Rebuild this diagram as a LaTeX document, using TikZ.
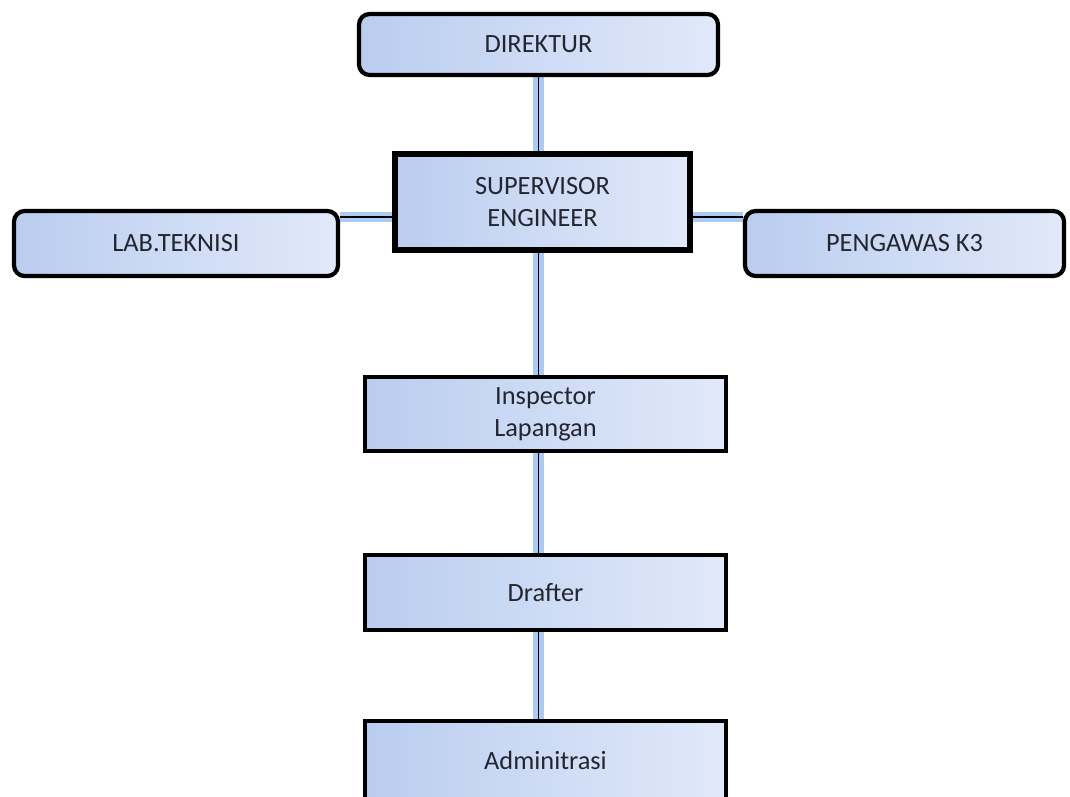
\documentclass[tikz,border=0pt]{standalone}
\usepackage{fontspec}
\setmainfont{Carlito}
\usepackage{tikz,xcolor}
\usetikzlibrary{backgrounds}
\definecolor{boxleft}{RGB}{186,205,239}
\definecolor{boxright}{RGB}{225,233,250}
\definecolor{glow}{RGB}{172,203,242}
\definecolor{textdark}{RGB}{35,38,48}
\tikzset{
  % style for the boxes of the chart
  unit/.style={
    draw=black,
    left color=boxleft,
    right color=boxright,
    text=textdark,
    align=center,
    font=\fontsize{15}{18}\selectfont,
    inner sep=0pt
  },
  roundunit/.style={unit, line width=2.4pt, rounded corners=6pt},
  squareunit/.style={unit, line width=2.4pt},
  % style for the lines between the boxes
  link/.style={
    draw=black,
    line width=0.6pt,
    preaction={draw=glow, line width=6pt}
  },
}

\begin{document}
\begin{tikzpicture}
  \useasboundingbox (0,0) rectangle (21.4,-15.92);
  \clip (0,0) rectangle (21.4,-15.92);
  % Draw the boxes
  \node[roundunit, minimum width=7.18cm, minimum height=1.22cm] (direktur) at (10.77,-0.89) {DIREKTUR};
  \node[squareunit, line width=3.6pt, minimum width=5.9cm, minimum height=1.92cm] (supervisor) at (10.85,-4.04) {SUPERVISOR\\ENGINEER};
  \node[roundunit, minimum width=6.48cm, minimum height=1.3cm] (lab) at (3.52,-4.87) {LAB.TEKNISI};
  \node[roundunit, minimum width=6.38cm, minimum height=1.3cm] (pengawas) at (18.09,-4.87) {PENGAWAS K3};
  \node[squareunit, minimum width=7.22cm, minimum height=1.48cm] (inspector) at (10.91,-8.28) {Inspector\\Lapangan};
  \node[squareunit, minimum width=7.22cm, minimum height=1.5cm] (drafter) at (10.91,-11.85) {Drafter};
  \node[squareunit, minimum width=7.22cm, minimum height=1.56cm] (admin) at (10.91,-15.2) {Adminitrasi};
  % Draw the lines
  \coordinate (hline) at (0,-4.34);
  \begin{scope}[on background layer]
    \draw[link] (direktur.south) -- (direktur.south |- supervisor.north);
    \draw[link] (direktur.south |- supervisor.south) -- (direktur.south |- inspector.north);
    \draw[link] (direktur.south |- inspector.south) -- (direktur.south |- drafter.north);
    \draw[link] (direktur.south |- drafter.south) -- (direktur.south |- admin.north);
    \draw[link] (lab.east |- hline) -- (supervisor.west |- hline);
    \draw[link] (supervisor.east |- hline) -- (pengawas.west |- hline);
  \end{scope}
\end{tikzpicture}
\end{document}
